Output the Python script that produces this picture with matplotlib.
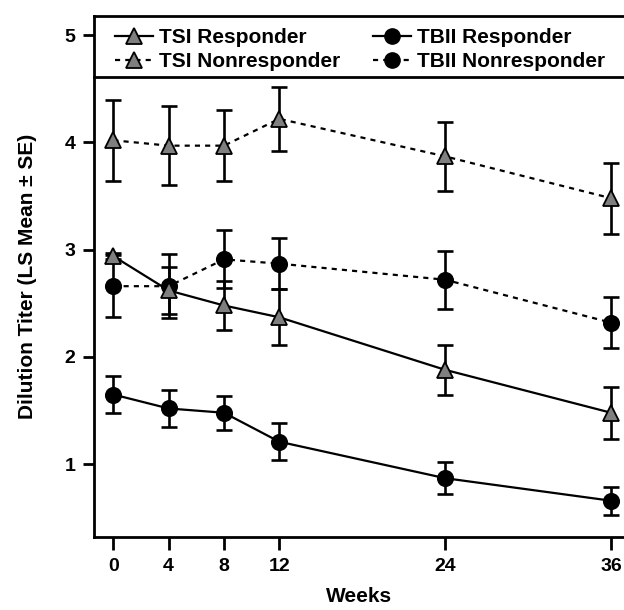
import matplotlib
matplotlib.use("Agg")
import matplotlib.pyplot as plt
from matplotlib.lines import Line2D

plt.rcParams['font.family'] = ['Liberation Sans', 'DejaVu Sans']
plt.rcParams['font.weight'] = 'bold'

weeks = [0, 4, 8, 12, 24, 36]

tsi_resp = [2.94, 2.62, 2.48, 2.37, 1.88, 1.48]
tsi_resp_se = [0.03, 0.22, 0.23, 0.26, 0.23, 0.24]
tsi_nonresp = [4.02, 3.97, 3.97, 4.22, 3.87, 3.48]
tsi_nonresp_se = [0.38, 0.37, 0.33, 0.30, 0.32, 0.33]
tbii_resp = [1.65, 1.52, 1.48, 1.21, 0.87, 0.66]
tbii_resp_se = [0.17, 0.17, 0.16, 0.17, 0.15, 0.13]
tbii_nonresp = [2.66, 2.66, 2.91, 2.87, 2.72, 2.32]
tbii_nonresp_se = [0.29, 0.30, 0.27, 0.24, 0.27, 0.24]

fig = plt.figure(figsize=(6.24, 6.10), dpi=100)
ax = fig.add_axes([0.150, 0.1197, 0.850, 0.974 - 0.1197])

dash = (0, (2.3, 2.3))
grey = '#7f7f7f'
series = [
    (tsi_nonresp, tsi_nonresp_se, '^', grey, dash, 11),
    (tbii_nonresp, tbii_nonresp_se, 'o', 'black', dash, 11),
    (tsi_resp, tsi_resp_se, '^', grey, '-', 11),
    (tbii_resp, tbii_resp_se, 'o', 'black', '-', 11),
]

for vals, se, mk, fc, ls, ms in series:
    ax.errorbar(weeks, vals, yerr=se, fmt='none', ecolor='black',
                elinewidth=1.9, capsize=5.6, capthick=1.9, zorder=2)
    ax.plot(weeks, vals, color='black', linestyle=ls, linewidth=1.6,
            marker=mk, markersize=ms, markerfacecolor=fc,
            markeredgecolor='black', markeredgewidth=1.3, zorder=3)

ax.set_xlim(-1.43, 36.93)
ax.set_ylim(0.322, 5.18)
ax.set_xticks(weeks)
ax.set_yticks([1, 2, 3, 4, 5])
ax.tick_params(axis='both', direction='out', width=2, labelsize=14)
ax.tick_params(axis='y', length=8, pad=5)
ax.tick_params(axis='x', length=9, pad=6)
for s in ['left', 'bottom', 'top']:
    ax.spines[s].set_linewidth(2)
ax.spines['right'].set_visible(False)

ax.set_xlabel('Weeks', fontsize=15, fontweight='bold', labelpad=9)
ax.set_ylabel('Dilution Titer (LS Mean \u00b1 SE)', fontsize=15,
              fontweight='bold', labelpad=20)

# legend box: top spine plus separator line
ax.plot([0, 1], [0.883, 0.883], transform=ax.transAxes, color='black',
        lw=2, clip_on=False, zorder=5)

handles = [
    Line2D([], [], color='black', lw=1.6, ls='-', marker='^', ms=11,
           mfc=grey, mec='black', mew=1.3),
    Line2D([], [], color='black', lw=1.6, ls=dash, marker='^', ms=11,
           mfc=grey, mec='black', mew=1.3),
    Line2D([], [], color='black', lw=1.6, ls='-', marker='o', ms=11,
           mfc='black', mec='black'),
    Line2D([], [], color='black', lw=1.6, ls=dash, marker='o', ms=11,
           mfc='black', mec='black'),
]
labels = ['TSI Responder', 'TSI Nonresponder', 'TBII Responder', 'TBII Nonresponder']
leg = ax.legend(handles, labels, ncol=2, loc='upper left',
                bbox_to_anchor=(0.0405, 0.977), frameon=False,
                borderaxespad=0, borderpad=0,
                prop={'size': 15, 'weight': 'bold'},
                handlelength=1.8, handletextpad=0.3, columnspacing=1.6,
                labelspacing=0.27)

fig.savefig('out.png', dpi=100)
